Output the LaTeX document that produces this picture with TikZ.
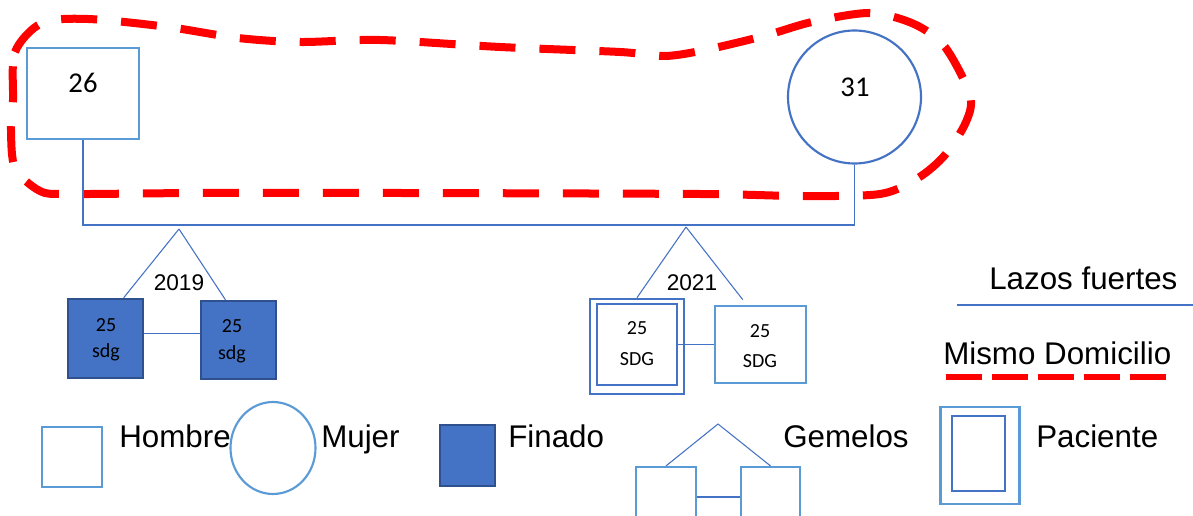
\documentclass[tikz,border=0pt]{standalone}
\usepackage{fontspec}
\setmainfont{Liberation Sans}
\newfontfamily\calib{Carlito}
\usetikzlibrary{shapes.geometric}
\definecolor{lblue}{HTML}{5B9BD5}
\definecolor{mblue}{HTML}{4472C4}
\definecolor{dblue}{HTML}{2F528F}
\definecolor{homered}{HTML}{FF0000}
\tikzset{
  man/.style={rectangle, draw=lblue, line width=1.6pt, inner sep=0pt},
  woman/.style={circle, draw=mblue, line width=1.6pt, inner sep=0pt},
  dead/.style={rectangle, draw=dblue, fill=mblue, line width=1.8pt, inner sep=0pt},
  patout/.style={rectangle, draw=mblue, line width=2pt, inner sep=0pt},
  patin/.style={rectangle, draw=mblue, line width=2.2pt, inner sep=0pt},
  link/.style={draw=mblue, line width=0.8pt},
  home/.style={draw=homered, line width=6pt, dash pattern=on 27pt off 18pt},
  homekey/.style={draw=homered, line width=5pt, dash pattern=on 27pt off 7.5pt},
  agebig/.style={font=\calib\fontsize{21.5}{24}\selectfont, inner sep=0pt, anchor=base},
  agesmall/.style={font=\calib\fontsize{15}{18}\selectfont, inner sep=0pt, anchor=base},
  year/.style={font=\fontsize{17}{20}\selectfont, inner sep=0pt, anchor=base},
  key/.style={font=\fontsize{23.5}{28}\selectfont, inner sep=0pt, anchor=base west},
}
\begin{document}
\begin{tikzpicture}[x=0.75pt,y=-0.75pt]
\clip (0,0) rectangle (1193,516);
\fill[white] (0,0) rectangle (1193,516);

% shared household outline
\draw[home] plot[smooth cycle, tension=0.5] coordinates {
  (13,100) (15,52) (42,23) (88,19) (168,27) (238,38) (300,42) (380,40)
  (500,47) (620,52) (665,56) (705,50) (764,36) (812,22) (870,13) (914,24)
  (945,47) (970,95) (966,122) (945,155) (918,178) (880,194) (800,196)
  (700,194) (400,193) (200,193) (70,194) (40,191) (15,168) (11,130)};

% parents
\node[man, minimum width=84pt, minimum height=68.25pt] (fa) at (83,93.5) {};
\node[agebig] (fa-t) at (83,93) {26};
\node[woman, minimum size=99.75pt] (mo) at (854.5,97) {};
\node[agebig] (mo-t) at (855,97) {31};

\coordinate (mar) at (0,225);
\draw[link] (fa.south) -- (fa.south |- mar) -- (mo.south |- mar) -- (mo.south);

% first pair of twins (2019), both deceased
\coordinate (ap1) at (179,229);
\node[dead, minimum width=56.25pt, minimum height=59.25pt] (tw1) at (105.5,338.5) {};
\node[dead, minimum width=56.25pt, minimum height=58.5pt] (tw2) at (238.5,340) {};
\node[agesmall] (tw1-a) at (106,332) {25};
\node[agesmall] (tw1-b) at (106,358) {sdg};
\node[agesmall] (tw2-a) at (232,333) {25};
\node[agesmall] (tw2-b) at (232,360) {sdg};
\draw[link] (ap1) -- (tw1.66);
\draw[link] (ap1) -- (tw2.108);
\draw[link] ([yshift=4pt]tw1.east) -- ([yshift=4pt]tw1.east -| tw2.west);
\node[year] (y1) at (179,291) {2019};

% second pair of twins (2021), one of them the patient
\coordinate (ap2) at (686,227);
\node[patout, minimum width=70.5pt, minimum height=71.25pt] (pat) at (637,346.5) {};
\node[patin, minimum width=60pt, minimum height=60.75pt] (pat-in) at (637,344.5) {};
\node[man, minimum width=68.25pt, minimum height=57.75pt] (sib) at (760.5,344.5) {};
\node[agesmall] (pat-a) at (637,335) {25};
\node[agesmall] (pat-b) at (637,366) {SDG};
\node[agesmall] (sib-a) at (760,338) {25};
\node[agesmall] (sib-b) at (760,368) {SDG};
\draw[link] (ap2) -- (pat.north);
\draw[link, shorten >=5pt] (ap2) -- (sib.109);
\draw[link] (pat-in.east) -- (pat-in.east -| sib.west);
\node[year] (y2) at (692,291) {2021};

% key: line types
\node[key] (k-lazos) at (989,290) {Lazos fuertes};
\coordinate (k-l1) at (957,305);
\coordinate (k-l2) at (1193,305);
\draw[link] (k-l1) -- (k-l2);
\node[key] (k-dom) at (943,365) {Mismo Domicilio};
\coordinate (k-d1) at (946,377);
\coordinate (k-d2) at (1170,377);
\draw[homekey] (k-d1) -- (k-d2);

% key: symbols
\node[man, minimum size=45pt] (k-m) at (72,457) {};
\node[key] (k-mt) at (119,448) {Hombre};
\node[ellipse, draw=lblue, line width=1.6pt, inner sep=0pt,
      minimum width=63.75pt, minimum height=69pt] (k-f) at (273,448) {};
\node[key] (k-ft) at (321,448) {Mujer};
\node[dead, minimum width=41.25pt, minimum height=45.75pt] (k-d) at (467.5,455.5) {};
\node[key] (k-dt) at (508,448) {Finado};

\coordinate (k-ap) at (718,424);
\node[man, minimum width=45pt, minimum height=60pt] (k-g1) at (666,507) {};
\node[man, minimum width=44.25pt, minimum height=60pt] (k-g2) at (770.5,507) {};
\draw[link] (k-ap) -- (k-g1.north);
\draw[link] (k-ap) -- (k-g2.north);
\draw[link] ([yshift=7.5pt]k-g1.east) -- ([yshift=7.5pt]k-g1.east -| k-g2.west);
\node[key] (k-gt) at (783,448) {Gemelos};

\node[rectangle, draw=lblue, line width=2pt, inner sep=0pt,
      minimum width=59.25pt, minimum height=72.75pt] (k-p) at (980,455.5) {};
\node[patin, minimum width=39.75pt, minimum height=56.25pt] (k-pin) at (978.5,453.5) {};
\node[key] (k-pt) at (1036,448) {Paciente};
\end{tikzpicture}
\end{document}
